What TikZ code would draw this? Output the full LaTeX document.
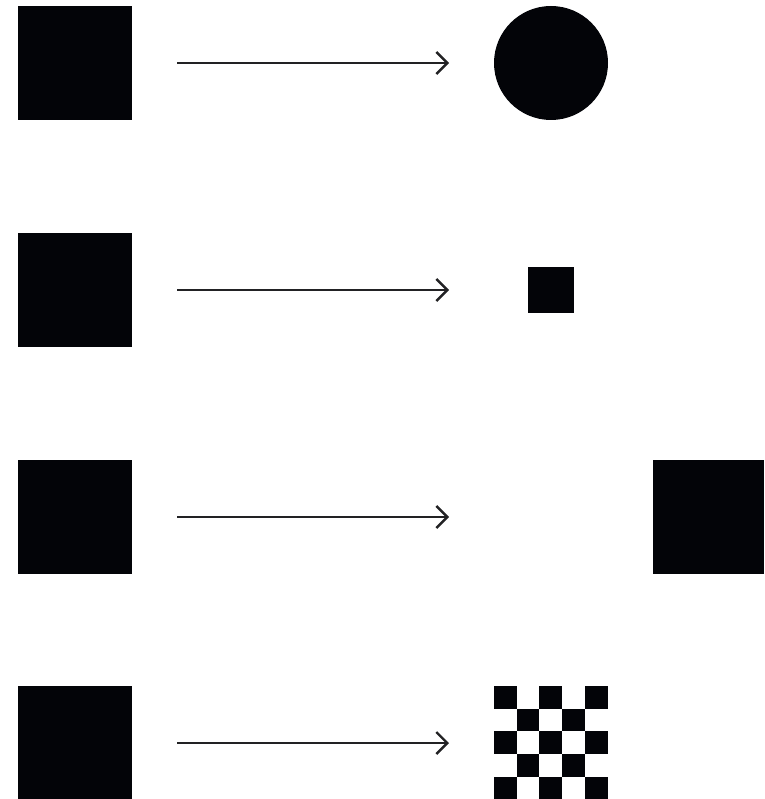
\documentclass[tikz,border=0pt]{standalone}
\usetikzlibrary{arrows.meta,calc}
\definecolor{ink}{RGB}{3,4,8}
\definecolor{linec}{RGB}{34,34,36}
\begin{document}
\begin{tikzpicture}[x=1pt,y=-1pt,
  box/.style={draw=none,fill=ink,minimum size=114pt,inner sep=0pt,outer sep=0pt},
  arr/.style={draw=linec,line width=2.4pt,-{Straight Barb[length=11pt,width=22pt]},shorten <=45pt}]
\useasboundingbox (0,0) rectangle (764,799);
% left squares
\node[box] (a1) at (75,63) {};
\node[box] (a2) at (75,290) {};
\node[box] (a3) at (75,517) {};
\node[box] (a4) at (75,743) {};
% targets
\node[circle,fill=ink,inner sep=0pt,minimum size=114pt] (b1) at (551,63) {};
\node[box,minimum size=46pt] (b2) at (551,290) {};
\node[box,minimum width=111pt,minimum height=114pt] (b3) at (708.5,517) {};
% checkerboard
\node[inner sep=0pt,minimum size=114pt] (b4) at (551,743) {};
\foreach \i in {0,...,4}{
  \foreach \j in {0,...,4}{
    \pgfmathtruncatemacro\s{mod(\i+\j,2)}
    \ifnum\s=0
      \fill[ink] ($(b4.north west)+(22.8*\i,22.8*\j)$) rectangle ++(22.8,22.8);
    \fi
  }
}
% arrow ends
\coordinate (t1) at (449,63);
\coordinate (t2) at (449,290);
\coordinate (t3) at (449,517);
\coordinate (t4) at (449,743);
\draw[arr] (a1) -- (t1);
\draw[arr] (a2) -- (t2);
\draw[arr] (a3) -- (t3);
\draw[arr] (a4) -- (t4);
\end{tikzpicture}
\end{document}
